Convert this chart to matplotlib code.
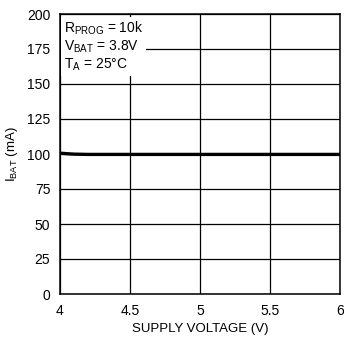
import matplotlib
matplotlib.use("Agg")
import matplotlib.pyplot as plt

# data
supply_v = [4.0, 4.05, 4.1, 4.2, 4.5, 5.0, 5.5, 6.0]
i_bat = [100.6, 100.2, 99.9, 99.7, 99.7, 99.7, 99.7, 99.7]

x_ticks = [4, 4.5, 5, 5.5, 6]
x_tick_labels = ["4", "4.5", "5", "5.5", "6"]
y_ticks = [0, 25, 50, 75, 100, 125, 150, 175, 200]

FONT = "Liberation Sans"
plt.rcParams["font.family"] = [FONT, "DejaVu Sans"]
plt.rcParams["mathtext.fontset"] = "custom"
plt.rcParams["mathtext.rm"] = FONT
plt.rcParams["mathtext.it"] = FONT

fig = plt.figure(figsize=(3.44, 3.38), dpi=100)
ax = fig.add_axes([60 / 344, 1 - 294 / 338, 280 / 344, 280 / 338])

ax.set_xlim(4, 6)
ax.set_ylim(0, 200)
ax.set_xticks(x_ticks)
ax.set_xticklabels(x_tick_labels)
ax.set_yticks(y_ticks)
ax.tick_params(length=0, labelsize=10, pad=7)
ax.grid(True, color="black", linewidth=0.9)
ax.set_axisbelow(True)
for s in ax.spines.values():
    s.set_linewidth(1.1)
    s.set_zorder(5)

ax.plot(supply_v, i_bat, color="black", linewidth=2.4, solid_capstyle="butt", zorder=3)

ax.set_xlabel("SUPPLY VOLTAGE (V)", fontsize=9.5, labelpad=4)
ax.set_ylabel(r"I$_{\mathregular{BAT}}$ (mA)", fontsize=9.5, labelpad=5)

ax.text(0.015, 0.98,
        r"R$_{\mathregular{PROG}}$ = 10k" "\n"
        r"V$_{\mathregular{BAT}}$ = 3.8V" "\n"
        r"T$_{\mathregular{A}}$ = 25°C",
        transform=ax.transAxes, ha="left", va="top", fontsize=10, linespacing=1.15,
        bbox=dict(facecolor="white", edgecolor="none", pad=2), zorder=4)

fig.savefig("out.png", dpi=100)
